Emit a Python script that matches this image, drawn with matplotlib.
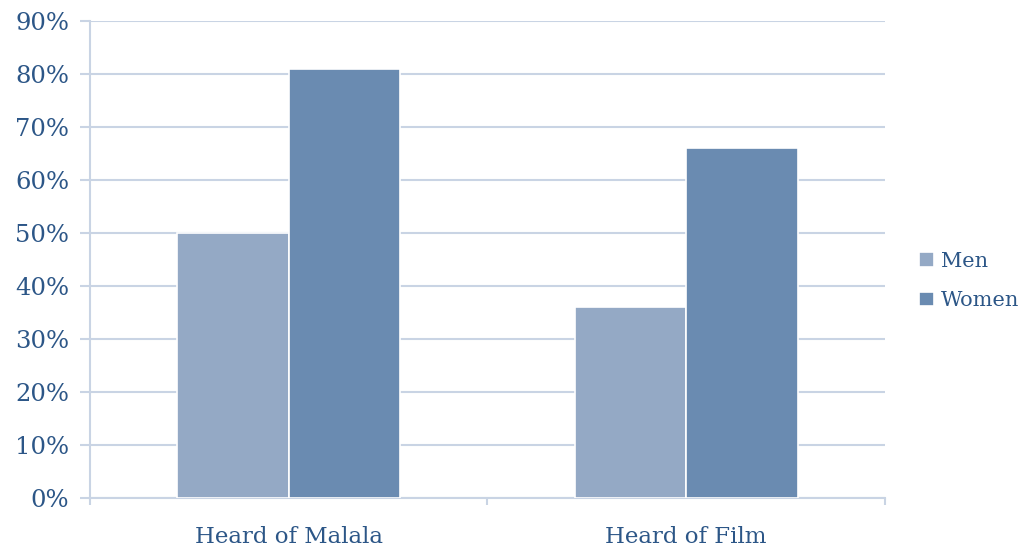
import numpy as np
import matplotlib
matplotlib.use("Agg")
import matplotlib.pyplot as plt
from matplotlib.ticker import MultipleLocator, FuncFormatter

categories = ["Heard of Malala", "Heard of Film"]
men = [50, 36]
women = [81, 66]

text_color = "#2c5687"
grid_color = "#c9d4e4"
men_color = "#94a9c5"
women_color = "#6a8bb1"

plt.rcParams["font.family"] = ["DejaVu Serif"]

fig = plt.figure(figsize=(10.30, 5.46), dpi=100)
ax = fig.add_axes([0.0874, 0.0879, 0.7718, 0.8736])

x = np.arange(len(categories))
w = 0.28
ax.bar(x - w / 2, men, w, color=men_color, edgecolor="white", linewidth=1.2, label="Men", zorder=3)
ax.bar(x + w / 2, women, w, color=women_color, edgecolor="white", linewidth=1.2, label="Women", zorder=3)

ax.set_xlim(-0.5, len(categories) - 0.5)
ax.set_ylim(0, 90)
ax.yaxis.set_major_locator(MultipleLocator(10))
ax.yaxis.set_major_formatter(FuncFormatter(lambda v, p: f"{int(v)}%"))
ax.grid(axis="y", color=grid_color, linewidth=1.5, zorder=0)

# category labels centred, group boundary ticks
ax.set_xticks(x)
ax.set_xticklabels(categories)
ax.set_xticks([-0.5, 0.5, 1.5], minor=True)
ax.tick_params(axis="x", which="major", length=0, pad=20, labelsize=16.5, labelcolor=text_color)
ax.tick_params(axis="x", which="minor", length=5, width=1.5, color=grid_color, direction="out")
ax.tick_params(axis="y", length=7, width=1.5, color=grid_color, pad=8, labelsize=17.5, labelcolor=text_color)

for side in ["top", "right"]:
    ax.spines[side].set_visible(False)
for side in ["left", "bottom"]:
    ax.spines[side].set_color(grid_color)
    ax.spines[side].set_linewidth(1.5)

leg = ax.legend(loc="center left", bbox_to_anchor=(1.025, 0.455), frameon=False,
                fontsize=15, handlelength=0.7, handleheight=0.7, handletextpad=0.35,
                labelspacing=1.0, borderaxespad=0.3)
for t in leg.get_texts():
    t.set_color(text_color)

fig.savefig("out.png", dpi=100, facecolor="white")
